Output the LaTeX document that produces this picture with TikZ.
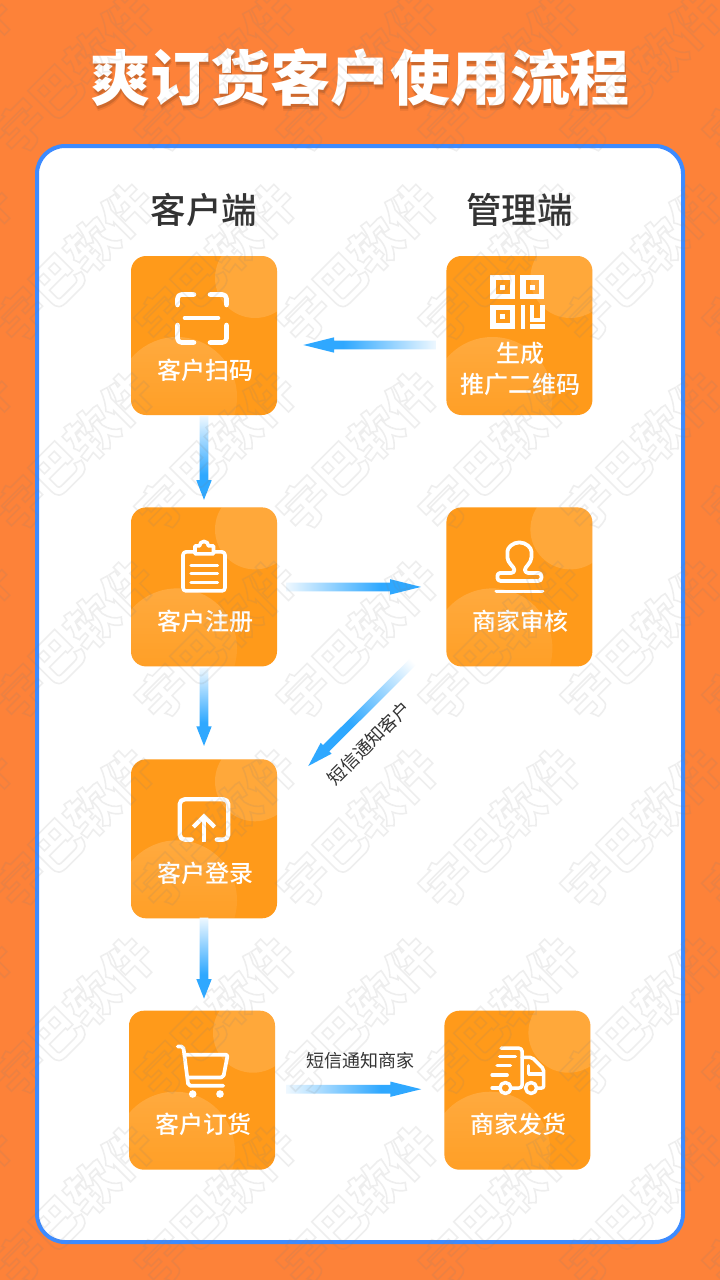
\documentclass[tikz,border=0pt]{standalone}
\usepackage{fontspec}
\setmainfont{Noto Sans CJK SC}
\newfontfamily\markfont{Noto Sans CJK SC Black}
\newfontfamily\medfont{Noto Sans CJK SC Medium}
\usetikzlibrary{positioning,shapes.arrows,fadings}

\definecolor{pageorange}{HTML}{FD8239}
\definecolor{panelblue}{HTML}{3D8BFF}
\definecolor{cardorange}{HTML}{FF9A1A}
\definecolor{flowblue}{HTML}{2FA8FF}
\definecolor{inkgray}{HTML}{333333}
\pgfdeclarehorizontalshading{flowshade}{100bp}{color(0bp)=(white); color(22bp)=(white); color(60bp)=(flowblue); color(100bp)=(flowblue)}

\begin{document}
\begin{tikzpicture}[
    x=1pt, y=-1pt,
    node distance=92pt and 169pt,
    card/.style={rectangle, rounded corners=15pt, fill=cardorange, minimum width=146pt, minimum height=159pt, inner sep=0pt,
        path picture={
            \fill[white,opacity=0.14] ([shift={(124,22)}]path picture bounding box.north west) circle (40);
            \fill[white,opacity=0.16,path fading=south] ([shift={(46,141)}]path picture bounding box.north west) circle (60);
        }},
    cardtext/.style={text=white, font=\medfont\fontsize{24}{31}\selectfont, align=center, inner sep=0pt},
    heading/.style={text=inkgray, font=\medfont\fontsize{35.5}{40}\selectfont, inner sep=0pt},
    note/.style={text=inkgray, font=\fontsize{18}{22}\selectfont, inner sep=0pt},
    titletext/.style={font=\bfseries\fontsize{60}{70}\selectfont, inner sep=0pt},
    icon/.style={draw=white, line width=3.7pt, line cap=round, line join=round},
    flow/.style n args={4}{single arrow, shading=flowshade, shading angle=#4, inner sep=0pt, sloped, allow upside down,
        minimum height=#1pt, minimum width=15pt, single arrow head extend=3.3pt, single arrow tip angle=#2, pos=#3, font=\fontsize{1}{1}\selectfont},
]

\useasboundingbox (0,0) rectangle (720,1280);
\clip (0,0) rectangle (720,1280);
\fill[pageorange] (0,0) rectangle (720,1280);
\node[titletext, text=black, opacity=0.07] (titleshadea) at (361,83) {爽订货客户使用流程};
\node[titletext, text=black, opacity=0.12] (titleshadeb) at (361,81) {爽订货客户使用流程};
\node[titletext, text=white] (title) at (360,78) {爽订货客户使用流程};
\draw[panelblue, line width=4pt, fill=white, rounded corners=28pt] (37,146) rectangle (683,1242);

\node[card] (scan) at (204,335.5) {};
\node[card, right=of scan] (qr) {};
\node[card, below=of scan] (reg) {};
\node[card, right=of reg] (audit) {};
\node[card, below=92.5pt of reg] (login) {};
\node[card, below=of login, xshift=-2pt] (order) {};
\node[card, right=of order] (ship) {};

\node[heading, above=29pt of scan] (clienthead) {客户端};
\node[heading, above=29pt of qr] (adminhead) {管理端};

\node[cardtext] (scantext) at ([shift={(1,34.5)}]scan.center) {客户扫码};
\node[cardtext] (qrtext) at ([shift={(1,33.5)}]qr.center) {生成\\推广二维码};
\node[cardtext] (regtext) at ([shift={(1,34.5)}]reg.center) {客户注册};
\node[cardtext] (audittext) at ([shift={(1,34.5)}]audit.center) {商家审核};
\node[cardtext] (logintext) at ([shift={(1,34.5)}]login.center) {客户登录};
\node[cardtext] (ordertext) at ([shift={(1,34.5)}]order.center) {客户订货};
\node[cardtext] (shiptext) at ([shift={(1,34.5)}]ship.center) {商家发货};

% flows
\path ([shift={(0,9.5)}]qr.west) -- node[flow={133}{28}{0.40}{180}] (flowa) {\rule{0pt}{8.4pt}} ([shift={(0,9.5)}]scan.east);
\path (scan.south) -- node[flow={84}{43}{0.402}{270}] (flowb) {\rule{0pt}{8.4pt}} (reg.north);
\path (reg.east) -- node[flow={135}{28}{0.40}{0}] (flowc) {\rule{0pt}{8.4pt}} (audit.west);
\path (reg.south) -- node[flow={78}{43}{0.375}{270}] (flowd) {\rule{0pt}{8.4pt}} (login.north);
\path ([shift={(-24,-14)}]audit.south west) -- node[flow={161}{34}{0.454}{225}] (flowe) {\rule{0pt}{8.4pt}} ([shift={(31,7)}]login.north east);
\path (login.south) -- node[flow={81}{43}{0.37}{270}] (flowf) {\rule{0pt}{8.4pt}} ([xshift=2pt]order.north);
\path ([shift={(0,-1)}]order.east) -- node[flow={135}{28}{0.412}{0}] (flowg) {\rule{0pt}{8.4pt}} ([shift={(0,-1)}]ship.west);

\node[note, rotate=45] (notifyclient) at (369,743) {短信通知客户};
\node[note] (notifyshop) at (360,1061) {短信通知商家};

% scan icon
\begin{scope}[shift={(scan.center)}, icon/.append style={line width=4.6pt, rounded corners=4pt}]
\draw[icon] (-10,-41) -- (-26.5,-41) -- (-26.5,-30.5);
\draw[icon] (6,-41) -- (22.5,-41) -- (22.5,-30.5);
\draw[icon] (-26.5,-10.5) -- (-26.5,7) -- (-10,7);
\draw[icon] (22.5,-10.5) -- (22.5,7) -- (6,7);
\draw[icon] (-19,-17.5) -- (14,-17.5);
\end{scope}

% qr icon
\begin{scope}[shift={(qr.center)}, icon/.append style={line cap=butt, line join=miter, line width=5.4pt}]
\draw[icon] (-26.3,-57.8) rectangle (-6.7,-39.2);
\draw[icon] (3.7,-57.8) rectangle (22.3,-39.2);
\draw[icon] (-26.3,-28.3) rectangle (-6.7,-9.7);
\fill[white] (-19,-50.5) rectangle (-14,-45.5);
\fill[white] (10.5,-50.5) rectangle (15.5,-45.5);
\fill[white] (-19,-21.5) rectangle (-14,-16.5);
\draw[icon, line width=4.4pt] (3.5,-30.5) -- (3.5,-7);
\draw[icon, line width=4.4pt] (12.8,-30.5) -- (12.8,-15.5) -- (23,-15.5) -- (23,-30.5);
\draw[icon, line width=4.4pt] (10.6,-9) -- (25.2,-9);
\end{scope}

% clipboard icon
\begin{scope}[shift={(reg.center)}, icon/.append style={line width=3.6pt}]
\draw[icon, rounded corners=3pt] (-9,-35) -- (-21,-35) -- (-21,4) -- (21,4) -- (21,-35) -- (9.5,-35);
\draw[icon] (-9,-33) -- (-9,-41) -- (-4.5,-41) arc (180:360:4.5) -- (9.5,-41) -- (9.5,-33) -- cycle;
\draw[icon, line width=3.2pt] (-13,-21.5) -- (13.5,-21.5);
\draw[icon, line width=3.2pt] (-13,-13.2) -- (13.5,-13.2);
\draw[icon, line width=3.2pt] (-13,-4.8) -- (13.5,-4.8);
\end{scope}

% stamp icon
\begin{scope}[shift={(audit.center)}, icon/.append style={line width=3.8pt}]
\draw[icon, rounded corners=3pt] (-5,-14) .. controls (-5,-20) and (-12,-24) .. (-12,-32.5) arc (180:360:12) .. controls (12,-24) and (5.5,-20) .. (5.5,-14) -- (22,-14) -- (22,-6) -- (-22,-6) -- (-22,-14) -- cycle;
\draw[icon] (-23,4.5) -- (23,4.5);
\end{scope}

% login icon
\begin{scope}[shift={(login.center)}, icon/.append style={line width=4.3pt}]
\draw[icon, rounded corners=5pt] (-12.3,0.8) -- (-24.3,0.8) -- (-24.3,-39.5) -- (24.3,-39.5) -- (24.3,0.8) -- (12.7,0.8);
\draw[icon, line cap=butt] (0,3) -- (0,-23);
\draw[icon, line cap=butt, line join=miter] (-10.7,-11.8) -- (0,-22.5) -- (10.7,-11.8);
\end{scope}

% cart icon
\begin{scope}[shift={(order.center)}, icon/.append style={line width=3.7pt, rounded corners=2pt}]
\draw[icon] (-24.3,-43.8) -- (-18.7,-43.8) -- (-13.7,-4.5) -- (21.3,-4.5);
\draw[icon] (-17,-35.5) -- (25.7,-35.5) -- (21.3,-12.8) -- (-13,-12.8);
\fill[white] (-9.3,3.8) circle (3.8) (18,3.8) circle (3.8);
\end{scope}

% truck icon
\begin{scope}[shift={(ship.center)}, icon/.append style={line width=3.5pt}]
\draw[icon, rounded corners=3pt] (-16.3,-42) -- (4.7,-42) -- (4.7,-2.2) -- (-6,-2.2);
\draw[icon, rounded corners=2pt] (4.7,-32.8) -- (14.7,-32.8) -- (26.3,-21.2) -- (26.3,-2.2) -- (20.5,-2.2);
\draw[icon] (11.3,-24.5) -- (11.3,-16.2) -- (24.7,-16.2);
\draw[icon] (-17.7,-33.8) -- (-2,-33.8);
\draw[icon] (-20.3,-24.5) -- (-7,-24.5);
\draw[icon] (-25.3,-15.2) -- (-10.3,-15.2);
\draw[icon] (-25.3,-2.2) -- (-18.7,-2.2);
\draw[icon] (-12,-2.2) circle (5.5);
\draw[icon] (13.7,-2.2) circle (5.5);
\end{scope}

% watermark
\foreach \col in {-1,...,5}
    \foreach \row in {0,...,7}
        \node[text=gray, opacity=0.13, rotate=45, inner sep=0pt, font=\markfont\fontsize{50}{54}\selectfont] (mark\col\row) at (\col*142+74,\row*188.5+74) {\special{pdf:code 1 Tr 1.6 w}宇巴软件\special{pdf:code 0 Tr}};

\end{tikzpicture}
\end{document}
